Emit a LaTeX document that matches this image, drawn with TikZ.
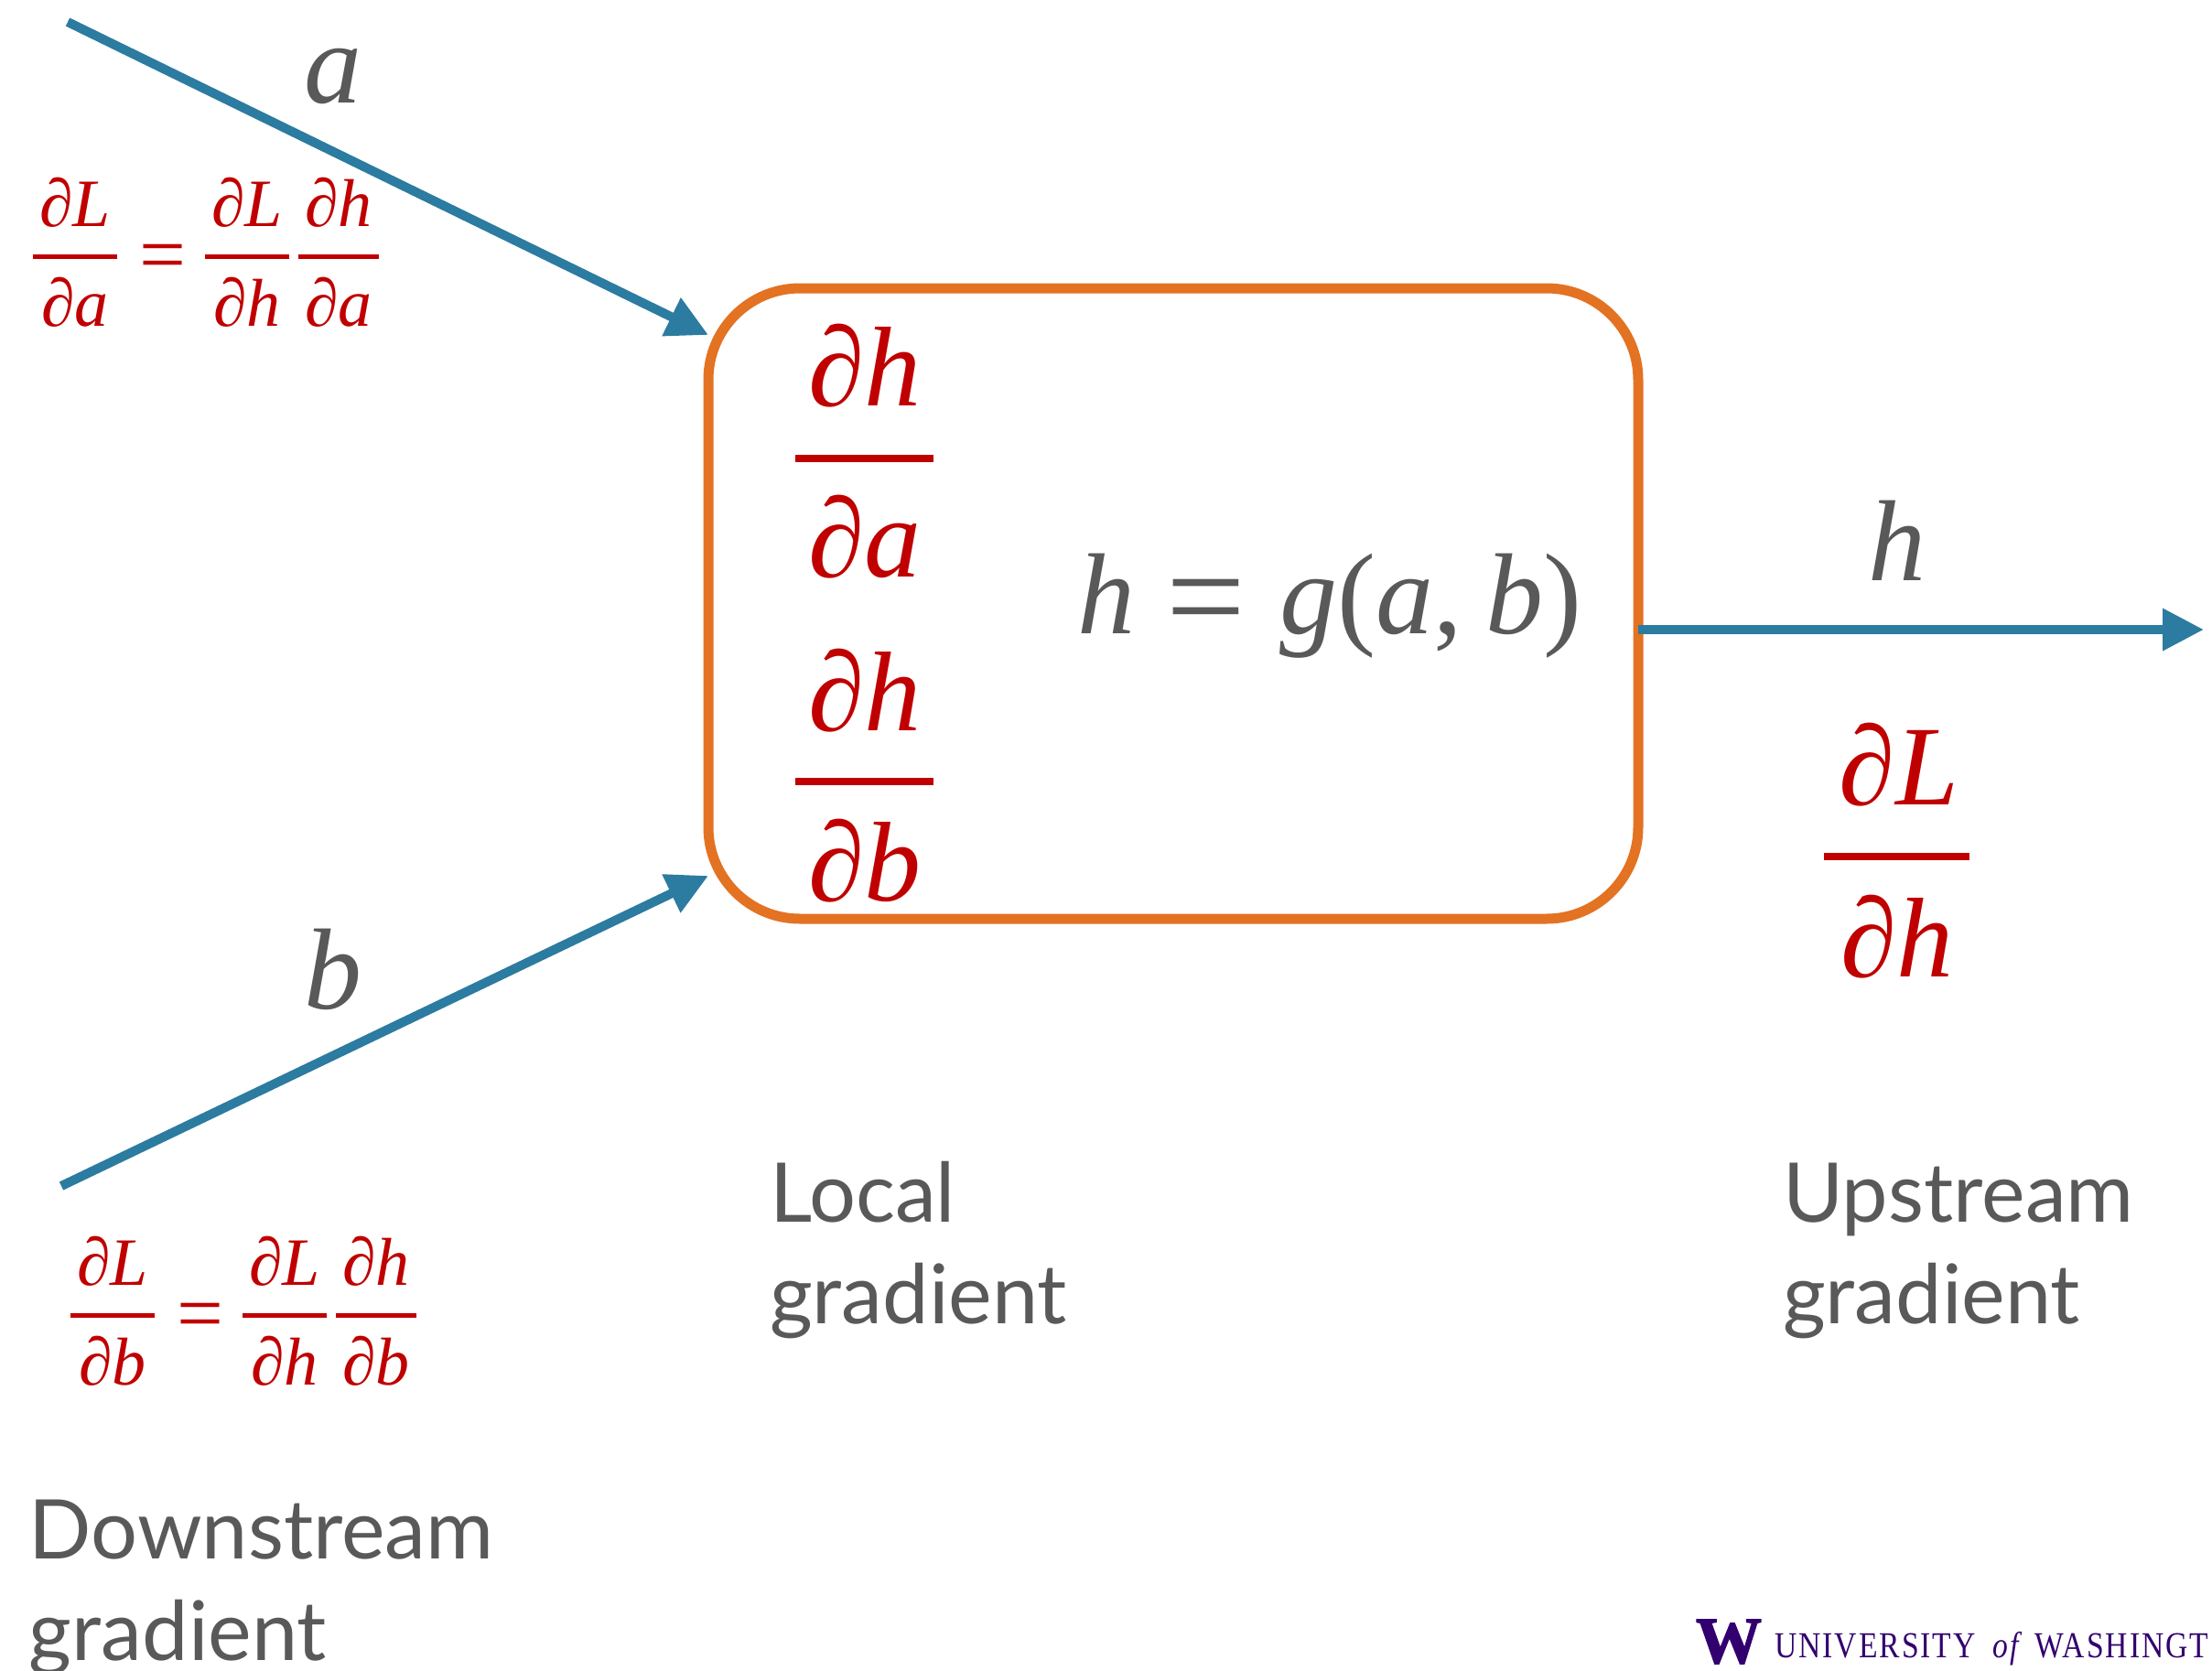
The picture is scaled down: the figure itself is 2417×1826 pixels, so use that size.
\documentclass[tikz,border=0pt]{standalone}
\usepackage{fontspec}
\usetikzlibrary{arrows.meta,calc}
\setmainfont{Lato}
\newfontfamily\serifup{Liberation Serif}
\newfontfamily\uwfont[LetterSpace=6]{Liberation Serif}
\newfontfamily\uwbold[UprightFont=* Bold,FakeBold=2]{Liberation Serif}
\definecolor{flow}{HTML}{2C7BA0}
\definecolor{boxo}{HTML}{E37222}
\definecolor{redm}{HTML}{C00000}
\definecolor{greyt}{HTML}{595959}
\definecolor{uwp}{HTML}{32006E}
\newcommand{\mi}[1]{{\serifup\itshape #1}}
\newcommand{\up}[1]{{\serifup #1}}
\newcommand{\eqs}{\scalebox{1.22}{\up{=}}}
\tikzset{
  x=0.5pt,y=-0.5pt,
  every node/.style={inner sep=0pt,outer sep=0pt},
  flowline/.style={draw=flow,line width=5pt,-{Triangle[length=22.5pt,width=22pt]}},
  bigm/.style={text=redm,anchor=base,font=\fontsize{62}{62}\selectfont},
  smallm/.style={text=redm,anchor=base,font=\fontsize{37}{37}\selectfont},
  varl/.style={text=greyt,anchor=base,font=\fontsize{63}{63}\selectfont},
  caption/.style={text=greyt,anchor=base west,font=\fontsize{45}{45}\selectfont},
  bigbar/.style={draw=redm,line width=4pt},
  smallbar/.style={draw=redm,line width=2.5pt},
}
\begin{document}
\begin{tikzpicture}
\useasboundingbox (0,0) rectangle (2417,1826);
\clip (0,0) rectangle (2417,1826);
% box
\node[draw=boxo,line width=5.5pt,rounded corners=50pt,minimum width=508pt,minimum height=344.5pt] (box) at (1282,659.5) {};
% connectors
\coordinate (astart) at (74,24);
\coordinate (atip) at (774,366);
\coordinate (bstart) at (67,1296);
\coordinate (btip) at (774,957);
\coordinate (outend) at (2408,688);
\draw[flowline] (astart) -- (box.west |- atip);
\draw[flowline] (bstart) -- (box.west |- btip);
\draw[flowline] (box.east |- outend) -- (outend);
% variable labels
\node[varl] (la) at (364,112) {\mi{a}};
\node[varl] (lb) at (364,1102) {\mi{b}};
\node[varl] (lh) at (2073,634) {\mi{h}};
\node[varl,anchor=base west] (eq) at (1177,692) {\mi{h}\hspace{0.27em}\raisebox{-0.09em}{\eqs}\hspace{0.3em}\mi{g}\up{(}\mi{a}\up{,}\hspace{0.2em}\mi{b}\up{)}};
% local gradients
\node[bigm] (n1) at (945,443) {\mi{∂h}};
\draw[bigbar] (869,501) -- (1020,501);
\node[bigm] (d1) at (945,630) {\mi{∂a}};
\node[bigm] (n2) at (945,798) {\mi{∂h}};
\draw[bigbar] (869,854) -- (1020,854);
\node[bigm] (d2) at (945,984) {\mi{∂b}};
% upstream
\node[bigm] (n3) at (2075,879) {\mi{∂L}};
\draw[bigbar] (1993,936) -- (2152,936);
\node[bigm] (d3) at (2073,1067) {\mi{∂h}};
% top equation
\node[smallm] (t1) at (82,247) {\mi{∂L}};
\draw[smallbar] (36,280) -- (128,280);
\node[smallm] (t2) at (82,356) {\mi{∂a}};
\node[smallm,anchor=center] (t3) at (178,288) {\eqs};
\node[smallm] (t4) at (270,247) {\mi{∂L}};
\draw[smallbar] (224,280) -- (316,280);
\node[smallm] (t5) at (270,356) {\mi{∂h}};
\node[smallm] (t6) at (370,247) {\mi{∂h}};
\draw[smallbar] (326,280) -- (414,280);
\node[smallm] (t7) at (370,356) {\mi{∂a}};
% bottom equation
\node[smallm] (u1) at (123,1404) {\mi{∂L}};
\draw[smallbar] (77,1437) -- (169,1437);
\node[smallm] (u2) at (123,1513) {\mi{∂b}};
\node[smallm,anchor=center] (u3) at (219,1445) {\eqs};
\node[smallm] (u4) at (311,1404) {\mi{∂L}};
\draw[smallbar] (265,1437) -- (357,1437);
\node[smallm] (u5) at (311,1513) {\mi{∂h}};
\node[smallm] (u6) at (411,1404) {\mi{∂h}};
\draw[smallbar] (367,1437) -- (455,1437);
\node[smallm] (u7) at (411,1513) {\mi{∂b}};
% captions
\node[caption] (c1) at (841,1335) {Local};
\node[caption] (c2) at (841,1446) {gradient};
\node[caption] (c3) at (1948,1335) {Upstream};
\node[caption] (c4) at (1948,1446) {gradient};
\node[caption] (c5) at (32,1703) {Downstream};
\node[caption] (c6) at (32,1814) {gradient};
% logo
\node[anchor=base west,text=uwp,font=\fontsize{36}{36}\selectfont\uwbold] (logow) at (1853,1817) {W};
\node[anchor=base west,text=uwp,font=\fontsize{20}{20}\selectfont] (logot) at (1939,1811) {\scalebox{0.84}[1]{\uwfont UNIVERSITY\hspace{0.55em}\itshape of\upshape\hspace{0.55em}WASHINGT}};
\end{tikzpicture}
\end{document}
